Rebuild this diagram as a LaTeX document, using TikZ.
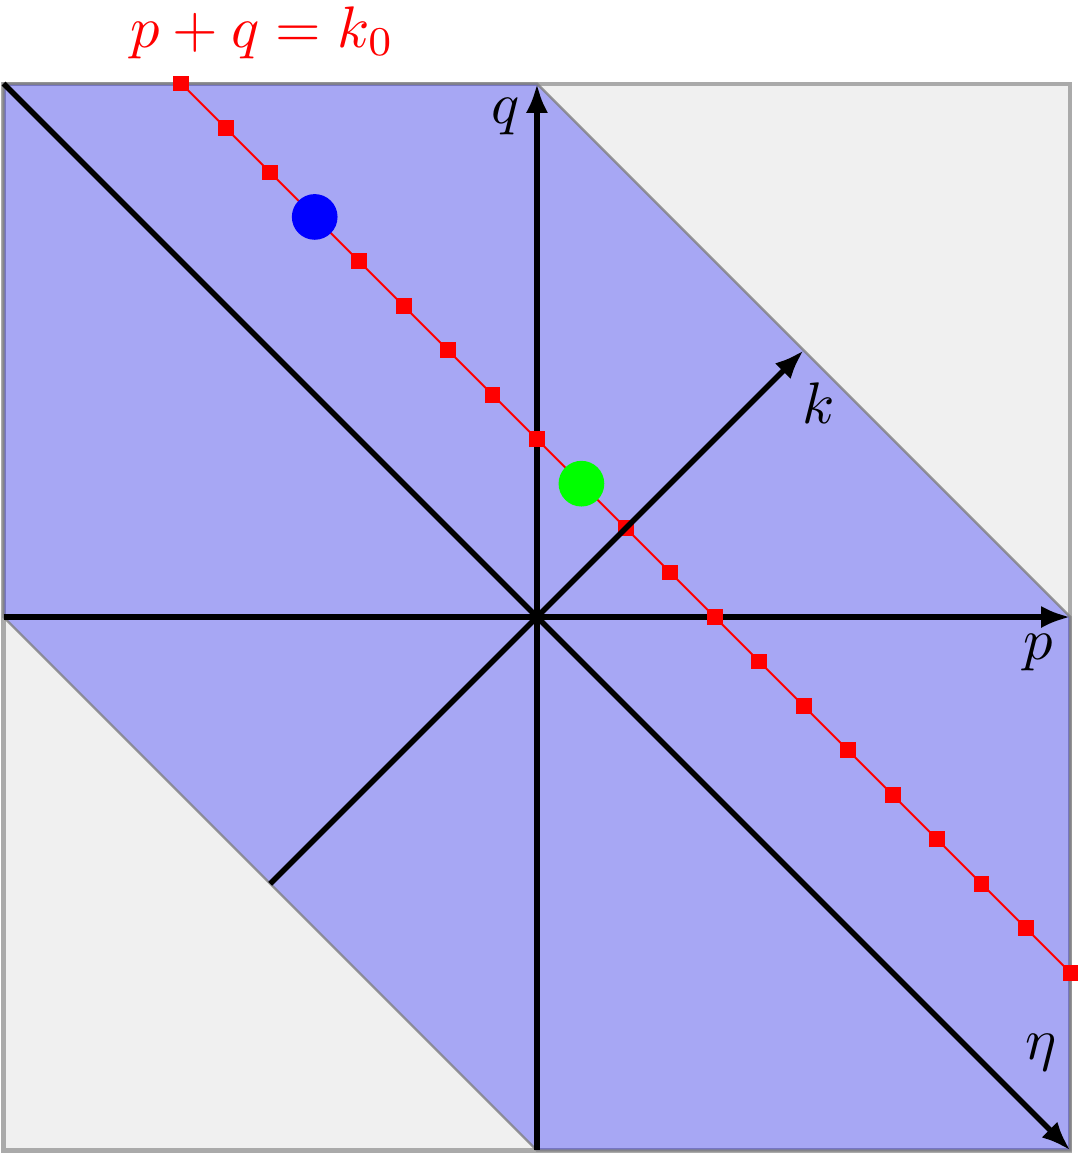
\documentclass[tikz,border=0pt]{standalone}
\usetikzlibrary{arrows.meta}
\definecolor{bggray}{HTML}{F0F0F0}
\definecolor{framegray}{HTML}{AAAAAA}
\tikzset{axis/.style={line width=0.95pt,-{Latex[length=5pt,width=3.8pt]}}, band/.style={fill=blue,fill opacity=0.3,draw=gray,draw opacity=0.8,thin}, sq/.style={rectangle,fill=red,inner sep=0pt,minimum size=2.7pt}, dot/.style={circle,inner sep=0pt,minimum size=7.8pt}}
\begin{document}
\begin{tikzpicture}[x=3.2cm,y=3.2cm]
\useasboundingbox (-1.0066,-1.0066) rectangle (1.0178,1.1567);
% background square and the band |p+q|<=1
\fill[bggray] (-1,-1) rectangle (1,1);
\draw[framegray,line width=0.7pt] (-1,-1) rectangle (1,1);
\filldraw[band] (-1,1) -- (0,1) -- (1,0) -- (1,-1) -- (0,-1) -- (-1,0) -- cycle;
% axes
\coordinate (pL) at (-1,0); \coordinate (pR) at (1,0);
\coordinate (qB) at (0,-1); \coordinate (qT) at (0,1);
\coordinate (kB) at (-0.5,-0.5); \coordinate (kT) at (0.5,0.5);
\coordinate (eL) at (-1,1); \coordinate (eR) at (1,-1);
\draw[axis] (pL)--(pR);
\draw[axis] (qB)--(qT);
\draw[axis] (eL)--(eR);
% the line p+q=k_0
\coordinate (r0) at (-2/3,1); \coordinate (r20) at (1,-2/3);
\draw[red,line width=0.35pt] (r0)--(r20);
\foreach \i in {0,1,2,4,5,6,7,8,10,11,12,13,14,15,16,17,18,19,20}
  \node[sq] (s\i) at ({-2/3+\i/12},{1-\i/12}) {};
\node[dot,fill=blue] (pb) at ({-2/3+3/12},{1-3/12}) {};
\node[dot,fill=green] (pg) at ({-2/3+9/12},{1-9/12}) {};
\draw[axis] (kB)--(kT);
% labels
\node (qlab) at (-0.059,0.938) {$q$};
\node (klab) at (0.528,0.401) {$k$};
\node (plab) at (0.939,-0.066) {$p$};
\node (elab) at (0.945,-0.816) {$\eta$};
\node[red] (k0lab) at (-0.515,1.096) {$p+q=k_0$};
\end{tikzpicture}
\end{document}
